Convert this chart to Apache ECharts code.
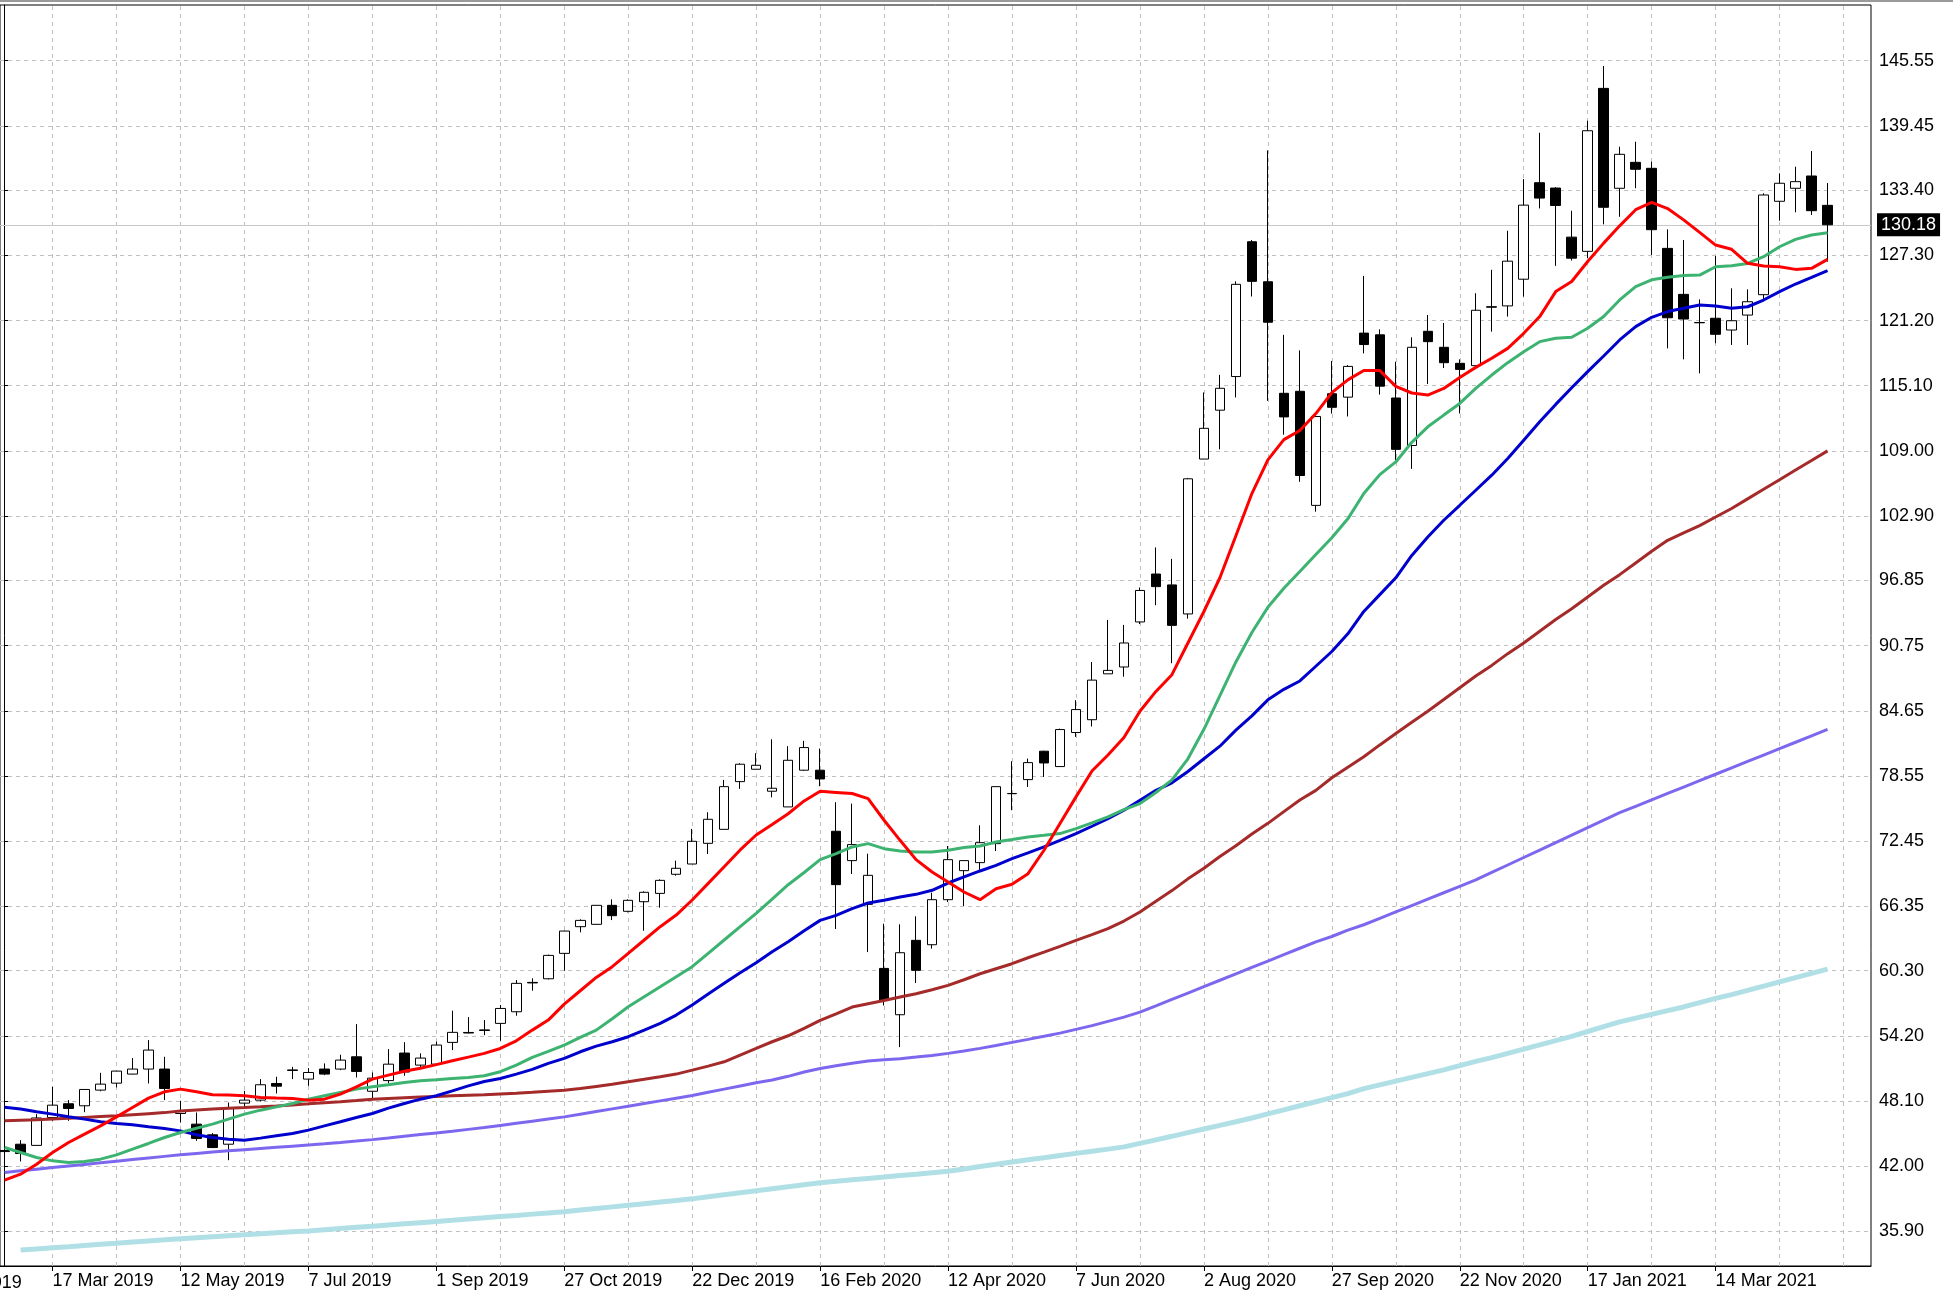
<!DOCTYPE html>
<html>
<head>
<meta charset="utf-8">
<script src="https://cdn.jsdelivr.net/npm/echarts@6/dist/echarts.min.js"></script>
<style>
  html, body { margin: 0; padding: 0; background: #fff; }
  #chart { width: 1953px; height: 1298px; }
</style>
</head>
<body>
<div id="chart"></div>
<script>
// weekly bars, index 0 = week of 24 Feb 2019
const opens = [43.45,44.04,43.93,46.54,47.83,47.64,49.11,49.76,50.61,51.08,51.08,46.92,45.92,44.92,44.04,47.89,48.17,49.73,51.00,50.14,
  51.08,51.08,52.23,49.00,50.00,52.58,51.45,51.54,53.58,54.51,54.75,55.36,56.45,59.20,59.54,61.92,64.42,64.64,66.42,65.86,
  66.76,67.54,69.33,70.29,72.23,73.54,78.01,79.17,77.11,75.64,79.08,79.08,73.36,70.61,66.51,60.51,56.17,63.14,62.73,66.95,
  69.67,70.42,72.20,76.90,78.20,80.86,79.42,82.61,83.81,88.11,88.75,92.97,97.46,96.44,93.72,108.23,112.81,115.96,128.59,124.84,
  114.39,114.58,103.89,114.35,114.03,120.03,119.87,113.95,109.50,120.20,118.70,117.20,116.98,122.50,122.58,125.08,134.12,133.62,129.02,127.69,
  142.96,133.60,136.03,135.47,127.97,123.66,121.02,121.42,120.32,121.72,123.63,132.38,133.60,134.75,132.00];
const closes = [43.35,43.17,46.50,47.70,47.39,49.17,49.67,50.89,51.08,52.86,49.26,47.17,44.58,43.73,47.48,48.17,49.61,49.48,50.95,50.76,
  50.61,51.92,50.86,50.23,51.54,50.80,52.11,53.33,54.52,54.46,54.70,56.76,59.11,59.15,61.73,64.01,65.01,66.42,65.45,66.89,
  67.64,68.76,69.89,72.42,74.48,77.54,79.64,79.54,77.39,80.01,81.20,78.26,68.36,72.11,69.23,57.51,61.98,60.33,66.95,70.70,
  70.61,72.29,77.54,76.88,79.79,79.76,82.89,84.76,87.52,88.43,91.00,95.92,96.28,92.65,106.38,111.11,114.86,124.60,124.88,121.05,
  112.18,106.69,112.22,113.08,116.91,118.96,115.06,109.14,118.70,119.23,117.26,116.63,122.17,122.46,126.77,132.02,132.68,131.99,127.05,138.99,
  131.82,136.78,135.38,129.72,121.47,121.35,121.00,119.92,121.19,122.97,132.97,134.07,134.22,131.50,130.18];
const lows = [43.00,42.42,43.90,46.23,46.23,47.04,49.00,49.36,50.58,49.73,48.17,46.07,44.36,43.67,42.54,47.50,48.04,48.79,50.14,49.51,
  50.51,50.98,50.29,48.17,49.73,50.45,51.17,51.48,52.86,54.42,54.26,53.73,56.08,58.42,59.48,60.29,63.89,64.60,65.04,65.76,
  64.04,66.20,69.20,70.29,71.23,73.54,77.33,79.17,76.54,75.64,79.01,77.58,64.20,69.36,62.04,57.04,53.14,59.14,62.36,66.73,
  66.36,69.54,71.51,75.33,77.51,78.45,79.42,82.20,83.18,88.11,87.84,92.77,94.54,89.10,93.28,108.23,109.14,114.00,123.46,113.68,
  110.52,106.10,103.30,112.49,112.22,118.13,114.27,108.15,107.31,115.26,116.76,112.50,116.98,120.17,121.58,123.45,131.71,126.33,126.83,127.04,
  130.22,130.93,133.60,127.35,118.60,117.57,116.26,119.08,118.92,118.92,123.13,130.56,131.35,131.10,126.72];
const highs = [43.70,44.42,46.86,49.42,48.17,49.20,50.73,50.92,52.11,53.79,52.23,48.11,47.01,45.08,47.95,49.04,50.14,50.36,51.29,51.17,
  51.61,52.42,55.29,50.76,52.95,53.60,52.55,53.64,56.55,55.95,55.67,57.08,59.42,59.58,61.80,64.05,65.11,66.45,66.98,66.98,
  67.73,68.86,70.61,73.58,75.14,78.17,79.73,80.67,81.98,81.33,81.83,81.11,76.08,75.95,71.26,64.70,64.64,65.39,67.61,71.98,
  70.65,73.92,77.58,79.92,80.17,80.90,82.98,85.64,89.22,93.16,92.69,96.20,99.95,98.88,106.46,114.47,116.12,124.88,128.75,137.15,
  119.87,118.41,112.30,117.42,117.03,125.39,120.38,117.35,119.64,121.73,120.98,117.57,123.77,125.96,129.62,134.46,138.80,133.70,131.49,139.93,
  145.05,137.49,137.96,136.09,129.75,128.75,123.19,127.25,124.23,124.13,133.13,135.00,135.62,137.09,134.09];

const maRed = [40.67,41.23,42.17,43.26,44.20,44.98,45.76,46.60,47.48,48.36,48.95,49.20,48.95,48.67,48.64,48.58,48.42,48.36,48.33,48.17,
  48.26,48.73,49.42,50.14,50.51,50.87,51.15,51.50,51.86,52.20,52.55,53.01,53.73,54.73,55.67,57.17,58.42,59.67,60.67,61.92,
  63.17,64.42,65.51,66.92,68.48,70.04,71.61,73.01,74.00,75.00,76.20,77.10,77.00,76.90,76.42,74.39,72.51,70.70,69.54,68.61,
  67.67,66.95,67.98,68.39,69.39,71.58,74.08,76.58,79.00,80.50,82.15,84.60,86.46,88.03,91.00,93.95,97.11,101.05,105.00,108.15,
  110.05,110.91,112.49,114.46,115.65,116.52,116.52,115.04,114.42,114.23,114.85,115.88,116.82,117.67,118.60,120.01,121.58,123.92,124.86,126.74,
  128.46,130.08,131.59,132.27,131.70,130.64,129.47,128.28,127.88,126.57,126.32,126.25,126.00,126.10,126.94];
const maGreen = [43.73,43.26,42.80,42.48,42.33,42.42,42.64,43.04,43.58,44.11,44.67,45.14,45.54,45.92,46.39,46.86,47.23,47.54,47.86,48.26,
  48.58,48.89,49.20,49.42,49.61,49.83,49.98,50.08,50.20,50.29,50.45,50.83,51.45,52.17,52.73,53.33,54.04,54.73,55.80,56.92,
  57.86,58.79,59.73,60.67,61.92,63.17,64.42,65.67,67.00,68.35,69.50,70.70,71.26,71.89,72.20,71.73,71.51,71.42,71.42,71.58,
  71.83,71.98,72.36,72.58,72.83,72.98,73.14,73.61,74.14,74.70,75.39,75.95,76.99,78.17,80.15,82.91,86.06,89.22,91.98,94.35,
  96.12,97.70,99.28,100.86,102.63,105.00,106.77,107.96,109.80,111.25,112.35,113.44,114.85,116.10,117.26,118.29,119.23,119.54,119.64,120.48,
  121.58,123.14,124.39,125.02,125.27,125.42,125.47,126.25,126.34,126.56,127.19,128.12,128.81,129.22,129.44];
const maBlue = [47.51,47.33,47.08,46.86,46.61,46.39,46.14,45.98,45.86,45.67,45.51,45.29,44.92,44.67,44.51,44.42,44.61,44.83,45.04,45.36,
  45.76,46.14,46.54,46.92,47.42,47.86,48.26,48.58,49.04,49.51,49.92,50.20,50.61,51.05,51.61,52.08,52.70,53.23,53.64,54.11,
  54.73,55.36,56.14,57.08,58.11,59.11,60.11,61.04,62.07,63.01,64.04,65.01,65.48,66.11,66.64,66.89,67.20,67.45,67.83,68.51,
  69.08,69.64,70.17,70.79,71.33,71.89,72.51,73.14,73.83,74.54,75.33,76.26,77.19,77.90,78.96,80.15,81.33,82.83,84.17,85.67,
  86.66,87.44,88.82,90.20,91.86,93.95,95.53,97.11,99.20,100.93,102.50,103.90,105.31,106.72,108.28,110.00,111.72,113.35,114.91,116.42,
  117.89,119.39,120.64,121.51,122.05,122.36,122.67,122.57,122.35,122.50,123.13,123.91,124.63,125.25,125.88];
const maBrown = [46.23,46.28,46.33,46.40,46.47,46.55,46.63,46.70,46.80,46.90,47.00,47.15,47.25,47.35,47.42,47.48,47.55,47.63,47.72,47.82,
  47.93,48.02,48.13,48.25,48.33,48.40,48.47,48.52,48.58,48.63,48.68,48.75,48.82,48.90,49.00,49.10,49.25,49.45,49.65,49.90,
  50.12,50.36,50.61,50.98,51.36,51.76,52.39,53.01,53.64,54.20,54.90,55.64,56.26,56.89,57.20,57.51,57.83,58.14,58.51,58.92,
  59.45,60.01,60.48,60.95,61.51,62.04,62.58,63.14,63.67,64.23,64.95,65.79,66.80,67.80,68.90,69.90,71.00,72.00,73.10,74.10,
  75.20,76.28,77.19,78.37,79.36,80.34,81.45,82.51,83.57,84.60,85.70,86.80,87.90,88.90,90.00,91.00,92.10,93.20,94.20,95.30,
  96.40,97.40,98.50,99.60,100.62,101.31,102.00,102.80,103.60,104.50,105.40,106.30,107.20,108.10,109.00];
const maPurple = [41.40,41.55,41.70,41.85,42.00,42.15,42.30,42.45,42.60,42.75,42.90,43.05,43.18,43.30,43.42,43.53,43.64,43.75,43.86,43.97,
  44.08,44.20,44.33,44.47,44.62,44.78,44.94,45.10,45.26,45.43,45.60,45.80,46.00,46.20,46.40,46.60,46.85,47.10,47.35,47.60,
  47.85,48.10,48.35,48.60,48.90,49.20,49.50,49.80,50.05,50.40,50.80,51.14,51.40,51.62,51.83,51.95,52.05,52.20,52.36,52.55,
  52.78,53.02,53.29,53.58,53.86,54.15,54.45,54.80,55.15,55.55,55.95,56.42,57.00,57.60,58.20,58.80,59.40,60.00,60.60,61.20,
  61.80,62.40,63.00,63.50,64.10,64.60,65.20,65.80,66.40,67.00,67.60,68.20,68.80,69.50,70.20,70.90,71.60,72.30,73.00,73.70,
  74.40,75.10,75.70,76.30,76.90,77.50,78.10,78.70,79.30,79.90,80.50,81.10,81.70,82.30,82.90];
const maCyan = [null,34.12,34.23,34.34,34.44,34.55,34.66,34.76,34.87,34.98,35.08,35.19,35.28,35.37,35.46,35.55,35.65,35.74,35.83,35.92,
  36.03,36.14,36.25,36.36,36.47,36.58,36.69,36.80,36.91,37.03,37.14,37.26,37.37,37.49,37.60,37.72,37.87,38.02,38.17,38.32,
  38.47,38.62,38.77,38.92,39.11,39.30,39.49,39.68,39.87,40.06,40.25,40.43,40.56,40.70,40.83,40.96,41.10,41.23,41.37,41.50,
  41.72,41.95,42.17,42.38,42.58,42.78,42.98,43.18,43.38,43.58,43.79,44.12,44.45,44.78,45.12,45.46,45.80,46.14,46.50,46.88,
  47.26,47.64,48.02,48.40,48.78,49.25,49.60,49.95,50.30,50.65,51.00,51.40,51.80,52.15,52.55,52.95,53.35,53.75,54.15,54.60,
  55.05,55.50,55.85,56.20,56.55,56.90,57.30,57.70,58.05,58.45,58.85,59.25,59.65,60.05,60.45];

const lastPrice = 130.18;
const yTicks = [35.90,42.00,48.10,54.20,60.30,66.35,72.45,78.55,84.65,90.75,96.85,102.90,109.00,115.10,121.20,127.30,133.40,139.45,145.55];
const tickWeeks = [3,11,19,27,35,43,51,59,67,75,83,91,99,107];
const tickLabels = ['17 Mar 2019','12 May 2019','7 Jul 2019','1 Sep 2019','27 Oct 2019','22 Dec 2019','16 Feb 2020',
  '12 Apr 2020','7 Jun 2020','2 Aug 2020','27 Sep 2020','22 Nov 2020','17 Jan 2021','14 Mar 2021'];
const gridWeeks = [3,7,11,15,19,23,27,31,35,39,43,47,51,55,59,63,67,71,75,79,83,87,91,95,99,103,107,111,115];

const FONT = 'Liberation Sans';
const chart = echarts.init(document.getElementById('chart'));

const candles = opens.map((o, i) => [i, o, closes[i], lows[i], highs[i]]);
function maSeries(name, arr, color, width) {
  const pts = [];
  arr.forEach((v, i) => { if (v != null) pts.push([i, v]); });
  return {
    name: name, type: 'line', data: pts, z: 3,
    showSymbol: false, symbol: 'none', silent: true,
    lineStyle: { color: color, width: width }
  };
}

const gridLines = [];
yTicks.forEach(v => gridLines.push({ yAxis: v }));
gridWeeks.forEach(w => gridLines.push({ xAxis: w }));
gridLines.push({
  yAxis: lastPrice,
  lineStyle: { type: 'solid', color: '#c8c8c8', width: 1 },
  label: {
    show: true, position: 'end', distance: 6,
    formatter: lastPrice.toFixed(2),
    backgroundColor: '#000', color: '#fff',
    fontFamily: FONT, fontSize: 18, padding: [3, 4, 2, 4]
  }
});

const option = {
  animation: false,
  backgroundColor: '#fff',
  grid: {
    left: -2, right: 82, top: 5, bottom: 32,
    show: true, borderColor: '#000', borderWidth: 1, backgroundColor: '#fff'
  },
  xAxis: {
    type: 'value',
    min: -0.2874, max: 116.717,
    splitLine: { show: false },
    axisLine: { show: true, lineStyle: { color: '#000' } },
    axisTick: { show: true, customValues: tickWeeks, length: 5, lineStyle: { color: '#000' } },
    axisLabel: {
      customValues: tickWeeks,
      formatter: v => tickLabels[tickWeeks.indexOf(Math.round(v))] || '',
      align: 'left', margin: 6,
      fontFamily: FONT, fontSize: 18, color: '#000'
    }
  },
  yAxis: {
    type: 'value', position: 'right',
    min: 32.63, max: 150.77,
    splitLine: { show: false },
    axisLine: { show: true, lineStyle: { color: '#000' } },
    axisTick: { show: true, customValues: yTicks, length: 5, lineStyle: { color: '#000' } },
    axisLabel: {
      customValues: yTicks,
      formatter: v => v.toFixed(2),
      margin: 8,
      fontFamily: FONT, fontSize: 18, color: '#000'
    }
  },
  graphic: [
    { type: 'rect', shape: { x: 0, y: 0, width: 1953, height: 2 }, style: { fill: '#9a9a9a' }, silent: true },
    { type: 'text', x: -77.4, y: 1274, style: { text: '20 Jan 2019', font: '18px "Liberation Sans"', fill: '#000' }, silent: true }
  ],
  series: [
    {
      name: 'price', type: 'candlestick',
      data: candles,
      encode: { x: 0, y: [1, 2, 3, 4] },
      barWidth: 10, z: 2,
      itemStyle: {
        color: '#fff', color0: '#000',
        borderColor: '#000', borderColor0: '#000', borderColorDoji: '#000',
        borderWidth: 1
      },
      markLine: {
        silent: true, z: 1, symbol: ['none', 'none'], animation: false,
        label: { show: false },
        lineStyle: { type: [4, 4], color: '#c0c0c0', width: 1 },
        data: gridLines
      }
    },
    maSeries('cyan', maCyan, '#b0e0e6', 5),
    maSeries('purple', maPurple, '#7b68ee', 3),
    maSeries('brown', maBrown, '#a52a2a', 3),
    maSeries('blue', maBlue, '#0000cd', 3),
    maSeries('green', maGreen, '#3cb371', 3),
    maSeries('red', maRed, '#ff0000', 3)
  ]
};
chart.setOption(option);
</script>
</body>
</html>
